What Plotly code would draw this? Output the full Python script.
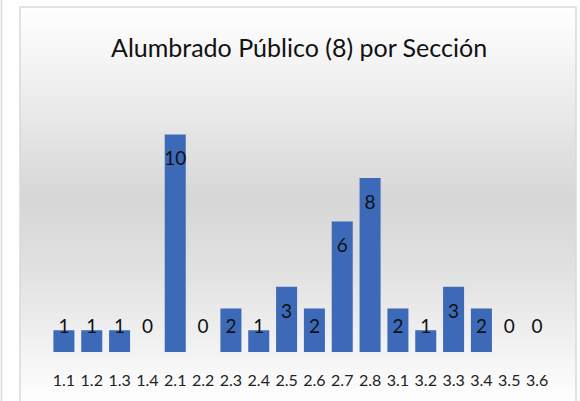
import plotly.graph_objects as go

categories = ["1.1", "1.2", "1.3", "1.4", "2.1", "2.2", "2.3", "2.4", "2.5",
              "2.6", "2.7", "2.8", "3.1", "3.2", "3.3", "3.4", "3.5", "3.6"]
values = [1, 1, 1, 0, 10, 0, 2, 1, 3, 2, 6, 8, 2, 1, 3, 2, 0, 0]
title_text = "Alumbrado Público (8) por Sección"

W, H = 580, 401
L, R, T, B = 50, 29, 91, 49
PW, PH = W - L - R, H - T - B


def px_x(px):
    return (px - L) / PW


def px_y(py):
    return (H - B - py) / PH


def bg_gray(py):
    stops = [(7, 255), (100, 236), (200, 214), (280, 227), (330, 238), (395, 253)]
    if py <= stops[0][0]:
        return stops[0][1]
    for (a, ca), (b, cb) in zip(stops, stops[1:]):
        if a <= py <= b:
            return ca + (cb - ca) * (py - a) / (b - a)
    return stops[-1][1]


shapes = []
# gradient background inside chart frame
y = 7
step = 3
while y < 401:
    g = int(round(bg_gray(y + step / 2)))
    shapes.append(dict(type="rect", xref="paper", yref="paper",
                       x0=px_x(20), x1=px_x(576), y0=px_y(y + step), y1=px_y(y),
                       fillcolor=f"rgb({g},{g},{g})", line=dict(width=0),
                       layer="below"))
    y += step
# chart frame
shapes.append(dict(type="rect", xref="paper", yref="paper",
                   x0=px_x(20), x1=px_x(576), y0=px_y(410), y1=px_y(7),
                   fillcolor="rgba(0,0,0,0)", line=dict(color="#d9d9d9", width=1.5),
                   layer="below"))
# neighbouring line at far left
shapes.append(dict(type="line", xref="paper", yref="paper",
                   x0=px_x(1.5), x1=px_x(1.5), y0=px_y(0), y1=px_y(401),
                   line=dict(color="#dcdcdc", width=1.5), layer="below"))

label_y = [max(v - 1.2, 1.1) for v in values]

fig = go.Figure()
fig.add_trace(go.Bar(x=categories, y=values,
                     marker=dict(color="#3d69b9", line=dict(width=0)),
                     hoverinfo="skip"))
fig.add_trace(go.Scatter(x=categories, y=label_y, mode="text",
                         text=[str(v) for v in values],
                         textfont=dict(family="Lato", size=19, color="#111111"),
                         textposition="middle center", hoverinfo="skip"))

fig.add_annotation(text=title_text, xref="paper", yref="paper",
                   x=px_x(299), y=px_y(47), xanchor="center", yanchor="middle",
                   showarrow=False,
                   font=dict(family="Lato", size=25, color="#111111"))

fig.update_layout(
    width=W, height=H,
    margin=dict(l=L, r=R, t=T, b=B, pad=0),
    paper_bgcolor="rgba(0,0,0,0)",
    plot_bgcolor="rgba(0,0,0,0)",
    showlegend=False,
    bargap=0.245,
    shapes=shapes,
    xaxis=dict(type="category", range=[-0.5, len(categories) - 0.5],
               showgrid=False, zeroline=False, showline=False,
               ticks="outside", ticklen=14, tickcolor="rgba(0,0,0,0)",
               tickfont=dict(family="Lato", size=16, color="#222222")),
    yaxis=dict(range=[0, 12], showgrid=False, zeroline=False, showline=False,
               showticklabels=False, ticks=""),
)

fig.write_html("out.html", config={"displayModeBar": False},
               post_script="document.body.style.margin='0';document.body.style.overflow='hidden';")
